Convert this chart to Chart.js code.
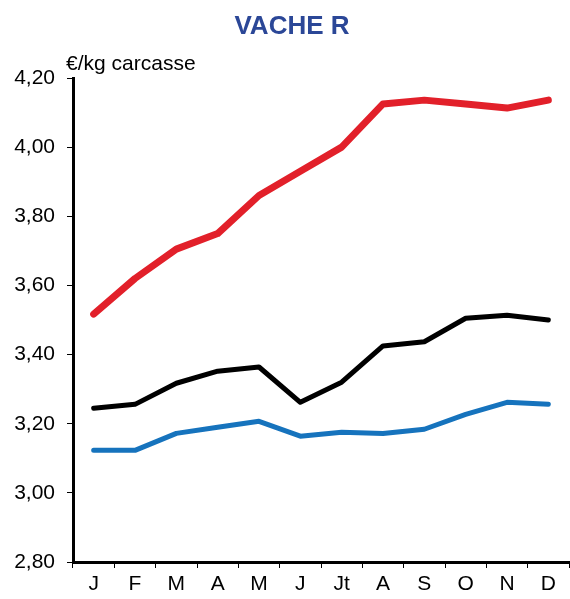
<!DOCTYPE html>
<html>
<head>
<meta charset="utf-8">
<script src="https://cdn.jsdelivr.net/npm/chart.js@4/dist/chart.umd.min.js"></script>
<style>
  html, body { margin: 0; padding: 0; background: #fff; }
  #wrap { width: 570px; height: 599px; }
</style>
</head>
<body>
<div id="wrap"><canvas id="lineChart"></canvas></div>
<script>
const months = ['J', 'F', 'M', 'A', 'M', 'J', 'Jt', 'A', 'S', 'O', 'N', 'D'];
const redSeries = [3.517, 3.62, 3.705, 3.75, 3.86, 3.93, 4.00, 4.125, 4.136, 4.125, 4.113, 4.136];
const blackSeries = [3.245, 3.256, 3.317, 3.352, 3.364, 3.262, 3.32, 3.425, 3.437, 3.505, 3.514, 3.50];
const blueSeries = [3.123, 3.123, 3.172, 3.19, 3.207, 3.164, 3.175, 3.172, 3.184, 3.227, 3.262, 3.256];
const yMin = 2.8;
const yMax = 4.2;
const yStep = 0.2;

const FONT = "'Liberation Sans', Arial, sans-serif";

// title and unit label drawn by hand
const textPlugin = {
  id: 'textPlugin',
  afterDraw(chart) {
    const ctx = chart.ctx;
    const area = chart.chartArea;
    ctx.save();
    ctx.fillStyle = '#2B4797';
    ctx.font = 'bold 26px ' + FONT;
    ctx.textAlign = 'center';
    ctx.textBaseline = 'alphabetic';
    ctx.fillText('VACHE R', 292, 34);
    ctx.fillStyle = '#000';
    ctx.font = '21px ' + FONT;
    ctx.textAlign = 'left';
    ctx.fillText('€/kg carcasse', area.left - 7, 70);
    ctx.restore();
  }
};

function lineSet(data, color, width) {
  return {
    data: data,
    borderColor: color,
    borderWidth: width,
    pointRadius: 0,
    tension: 0,
    fill: false,
    borderCapStyle: 'round',
    borderJoinStyle: 'round'
  };
}

new Chart(document.getElementById('lineChart'), {
  type: 'line',
  data: {
    labels: months,
    datasets: [
      lineSet(redSeries, '#E2202A', 7),
      lineSet(blackSeries, '#000000', 5),
      lineSet(blueSeries, '#1673BD', 5)
    ]
  },
  options: {
    responsive: true,
    maintainAspectRatio: false,
    animation: false,
    layout: { padding: { top: 78, right: 1, left: 0, bottom: 0 } },
    scales: {
      x: {
        offset: true,
        grid: {
          offset: true,
          drawOnChartArea: false,
          tickLength: 6,
          tickColor: '#000',
          tickWidth: 1
        },
        border: { color: '#000', width: 3 },
        ticks: {
          color: '#000',
          font: { family: FONT, size: 21 },
          padding: 4,
          maxRotation: 0,
          autoSkip: false
        },
        afterFit(scale) { scale.height = 37; }
      },
      y: {
        min: yMin,
        max: yMax,
        grid: {
          drawOnChartArea: false,
          tickLength: 6,
          tickColor: '#000',
          tickWidth: 1
        },
        border: { color: '#000', width: 3 },
        ticks: {
          stepSize: yStep,
          color: '#000',
          font: { family: FONT, size: 21 },
          padding: 12,
          callback: v => v.toFixed(2).replace('.', ',')
        },
        afterFit(scale) { scale.width = 73; }
      }
    },
    plugins: {
      legend: { display: false },
      tooltip: { enabled: false }
    }
  },
  plugins: [textPlugin]
});
</script>
</body>
</html>
